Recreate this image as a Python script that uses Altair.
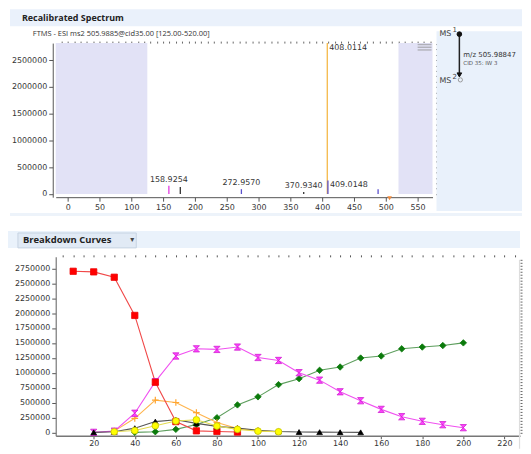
import altair as alt
import pandas as pd

# ------------------------------------------------------------------ data
# Recalibrated spectrum (m/z, intensity)
peak_mz = [158.9254, 176.9, 272.9570, 370.9340, 408.0114, 409.0148, 487.9]
peak_intensity = [155000, 130000, 90000, 35000, 2820000, 250000, 90000]
peak_kind = ["magenta", "dark", "blue", "dark", "base", "blue", "blue"]

label_mz = [158.9254, 272.9570, 370.9340]
label_intensity = [155000, 90000, 35000]
label_text = ["158.9254", "272.9570", "370.9340"]

base_mz = [408.0114]
base_intensity = [2820000]
base_text = ["408.0114"]

iso_mz = [409.0148]
iso_intensity = [250000]
iso_text = ["409.0148"]

precursor_mz = [505.9885]
precursor_level = [-60000]

excluded_from = [-19, 520]
excluded_to = [125, 573.5]
excluded_bottom = [0, 0]
excluded_top = [2820000, 2820000]

# Breakdown curves (collision energy, intensity)
red_x = [10, 20, 30, 40, 50, 60, 70, 80, 90]
red_y = [2700000, 2690000, 2600000, 1960000, 840000, 180000, 25000, 15000, 5000]

magenta_x = [20, 30, 40, 50, 60, 70, 80, 90, 100, 110, 120, 130, 140, 150, 160, 170, 180, 190, 200]
magenta_y = [0, 20000, 320000, 850000, 1280000, 1400000, 1390000, 1430000, 1255000, 1205000,
             1000000, 875000, 680000, 530000, 385000, 262000, 185000, 128000, 78000]

green_x = [40, 50, 60, 70, 80, 90, 100, 110, 120, 130, 140, 150, 160, 170, 180, 190, 200]
green_y = [0, 10000, 50000, 130000, 245000, 460000, 595000, 800000, 900000, 1040000, 1095000,
           1245000, 1280000, 1400000, 1430000, 1455000, 1500000]

orange_x = [30, 40, 50, 60, 70, 80, 90, 100, 110]
orange_y = [20000, 235000, 540000, 500000, 330000, 165000, 65000, 25000, 10000]

black_x = [20, 30, 40, 50, 60, 70, 80, 90, 100, 110, 120, 130, 140, 150]
black_y = [0, 10000, 70000, 180000, 210000, 150000, 100000, 70000, 35000, 15000, 5000, 3000, 2000, 0]

yellow_x = [30, 40, 50, 60, 70, 80, 90, 100, 110]
yellow_y = [10000, 30000, 110000, 190000, 210000, 105000, 50000, 20000, 10000]

# texts
title_top = ["Recalibrated Spectrum"]
subtitle_top = ["FTMS - ESI ms2 505.9885@cid35.00 [125.00-520.00]"]
title_bottom = ["Breakdown Curves"]
ms_text = ["MS"]
ms1_sup = ["1"]
ms2_sup = ["2"]
mz_text = ["m/z 505.98847"]
cid_text = ["CID 35: IW 3"]
dropdown = ["▾"]

# ------------------------------------------------------------------ helpers
FONT = "DejaVu Sans"
UI = "Open Sans"
ONE = pd.DataFrame({"k": [0]})


def box(x1, x2, y1, y2, fill, stroke=None):
    kw = dict(fill=fill)
    if stroke:
        kw.update(stroke=stroke, strokeWidth=1)
    return alt.Chart(ONE).mark_rect(**kw).encode(
        x=alt.value(x1), x2=alt.value(x2), y=alt.value(y1), y2=alt.value(y2))


def txt(values, x, y, size, font=FONT, color="#333333", weight="normal", align="left"):
    return alt.Chart(pd.DataFrame({"t": values})).mark_text(
        align=align, baseline="middle", fontSize=size, font=font, color=color,
        fontWeight=weight).encode(x=alt.value(x), y=alt.value(y), text="t:N")


def hrule(x1, x2, y, color, w=1.0):
    return alt.Chart(ONE).mark_rule(color=color, strokeWidth=w).encode(
        x=alt.value(x1), x2=alt.value(x2), y=alt.value(y))


def vrule(x, y1, y2, color, w=1.0):
    return alt.Chart(ONE).mark_rule(color=color, strokeWidth=w).encode(
        x=alt.value(x), y=alt.value(y1), y2=alt.value(y2))


def dot(x, y, shape, size, fill, stroke, filled=True):
    kw = dict(shape=shape, size=size, stroke=stroke, strokeWidth=1, opacity=1, filled=filled)
    if filled:
        kw["fill"] = fill
    return alt.Chart(ONE).mark_point(**kw).encode(x=alt.value(x), y=alt.value(y))


# ------------------------------------------------------------------ top chart
TW, TH = 379, 155
RIGHT_T = 469  # right edge (relative to top plot origin)
tx = alt.Scale(domain=[-19, 573.5], nice=False, zero=False)
ty = alt.Scale(domain=[-60000, 2820000], nice=False, zero=False)

ax_common = dict(grid=False, title=None, labelFont=FONT, labelFontSize=8, labelColor="#333333",
                 tickColor="#555555", domainColor="#555555")
top_x_major = alt.Axis(values=list(range(0, 551, 50)), tickSize=4, labelPadding=2, **ax_common)
top_x_minor = alt.Axis(values=list(range(-10, 571, 10)), labels=False, domain=False, tickSize=2,
                       grid=False, title=None, tickColor="#666666")
top_y_major = alt.Axis(values=list(range(0, 2500001, 500000)), format="d", tickSize=4, labelPadding=2,
                       offset=3, **ax_common)
top_y_minor = alt.Axis(values=list(range(0, 2800001, 100000)), labels=False, domain=False, tickSize=2,
                       offset=3, grid=False, title=None, tickColor="#666666")

peaks = pd.DataFrame({"mz": peak_mz, "inten": peak_intensity, "kind": peak_kind})
excl = pd.DataFrame({"a": excluded_from, "b": excluded_to, "lo": excluded_bottom, "hi": excluded_top})
labs = pd.DataFrame({"mz": label_mz, "inten": label_intensity, "t": label_text})
base = pd.DataFrame({"mz": base_mz, "inten": base_intensity, "t": base_text})
iso = pd.DataFrame({"mz": iso_mz, "inten": iso_intensity, "t": iso_text})
prec = pd.DataFrame({"mz": precursor_mz, "lev": precursor_level})

shade = alt.Chart(excl).mark_rect(fill="#e2e2f6").encode(
    x=alt.X("a:Q", scale=tx, axis=None), x2="b:Q",
    y=alt.Y("lo:Q", scale=ty, axis=None), y2="hi:Q")

sticks = alt.Chart(peaks).mark_rule(strokeWidth=1.3).encode(
    x=alt.X("mz:Q", scale=tx, axis=top_x_major),
    y=alt.Y("inten:Q", scale=ty, axis=top_y_major),
    y2=alt.datum(0),
    color=alt.Color("kind:N", legend=None, scale=alt.Scale(
        domain=["magenta", "dark", "blue", "base"],
        range=["#e03ce0", "#333333", "#5a50cc", "#f5b847"])))

minor_axes = alt.Chart(peaks).mark_point(opacity=0).encode(
    x=alt.X("mz:Q", scale=tx, axis=top_x_minor),
    y=alt.Y("inten:Q", scale=ty, axis=top_y_minor))

peak_labels = alt.Chart(labs).mark_text(fontSize=8, font=FONT, color="#333333", baseline="bottom",
                                        dy=-2).encode(
    x=alt.X("mz:Q", scale=tx, axis=None), y=alt.Y("inten:Q", scale=ty, axis=None), text="t:N")

base_label = alt.Chart(base).mark_text(fontSize=8, font=FONT, color="#333333", align="left",
                                       baseline="top", dx=2, dy=1).encode(
    x=alt.X("mz:Q", scale=tx, axis=None), y=alt.Y("inten:Q", scale=ty, axis=None), text="t:N")

iso_label = alt.Chart(iso).mark_text(fontSize=8, font=FONT, color="#333333", align="left",
                                     baseline="middle", dx=2, dy=4).encode(
    x=alt.X("mz:Q", scale=tx, axis=None), y=alt.Y("inten:Q", scale=ty, axis=None), text="t:N")

prec_mark = alt.Chart(prec).mark_point(shape="triangle-down", filled=True, fill="#f08a3c",
                                       size=22, opacity=1, yOffset=1).encode(
    x=alt.X("mz:Q", scale=tx, axis=None), y=alt.Y("lev:Q", scale=ty, axis=None))

top = alt.layer(
    box(-46, RIGHT_T, -34, -17, "#eaf1fb"),
    txt(title_top, -34, -25.5, 9, font=UI, color="#222222", weight="bold"),
    txt(subtitle_top, -23, -9, 7.5, font=UI, color="#333333"),
    box(383, RIGHT_T, -12, 169, "#e9f1fb"),
    box(-46, RIGHT_T, 171, 174, "#edf3fa"),
    shade,
    sticks,
    minor_axes,
    peak_labels,
    base_label,
    iso_label,
    prec_mark,
    hrule(364, 378, 1.5, "#b0b0b8", 1.4),
    hrule(364, 378, 4.2, "#b0b0b8", 1.4),
    hrule(364, 378, 6.9, "#b0b0b8", 1.4),
    # MS tree
    txt(ms_text, 386, -9, 8, color="#444444"),
    txt(ms1_sup, 399, -13, 7, color="#444444"),
    vrule(406, -9, 33, "#222222", 1.5),
    dot(406, -9, "circle", 22, "#111111", "#111111"),
    dot(406, 32, "triangle-down", 22, "#111111", "#111111"),
    txt(ms_text, 386, 38, 8, color="#444444"),
    txt(ms2_sup, 399, 34, 7, color="#444444"),
    dot(407, 37, "circle", 18, "#ffffff", "#999999", filled=False),
    txt(mz_text, 410, 12, 7, color="#333333"),
    txt(cid_text, 410, 20, 5.5, color="#555555"),
).resolve_axis(x="independent", y="independent").properties(width=TW, height=TH)

# ------------------------------------------------------------------ bottom chart
BW, BH = 467, 180
bx = alt.Scale(domain=[1.5, 227.6], nice=False, zero=False)
by = alt.Scale(domain=[-58000, 2942000], nice=False, zero=False)

bot_x_major = alt.Axis(values=list(range(20, 221, 20)), tickSize=3, labelPadding=1,
                       domainWidth=1.5, grid=False, title=None, labelFont=FONT, labelFontSize=8,
                       labelColor="#333333", tickColor="#555555", domainColor="#777777")
bot_x_minor = alt.Axis(values=list(range(5, 226, 5)), labels=False, domain=False, tickSize=2,
                       grid=False, title=None, tickColor="#555555")
bot_y_major = alt.Axis(values=list(range(0, 2750001, 250000)), format="d", tickSize=4, labelPadding=2,
                       domainWidth=1.2, grid=False, title=None, labelFont=FONT, labelFontSize=8,
                       labelColor="#333333", tickColor="#555555", domainColor="#777777")
bot_y_minor = alt.Axis(values=list(range(0, 2900001, 50000)), labels=False, domain=False, tickSize=2,
                       grid=False, title=None, tickColor="#666666")

HOURGLASS = "M-1,-1L1,-1L-1,1L1,1Z"
PLUS = "M-1,0L1,0M0,-1L0,1"

series = [
    (green_x, green_y, "#5d9e5d", dict(shape="diamond", filled=True, fill="#0b7a0b", stroke="#0b7a0b", size=42)),
    (orange_x, orange_y, "#ffb44c", dict(shape=PLUS, filled=False, stroke="#ffa530", size=45, strokeWidth=1.2)),
    (magenta_x, magenta_y, "#f050f0", dict(shape=HOURGLASS, filled=True, fill="#ff40ff", stroke="#d020d0", size=40)),
    (red_x, red_y, "#f04848", dict(shape="square", filled=True, fill="#ff0000", stroke="#ee0000", size=40)),
    (black_x, black_y, "#555555", dict(shape="triangle-up", filled=True, fill="#000000", stroke="#000000", size=32)),
    (yellow_x, yellow_y, "#e4dc50", dict(shape="circle", filled=True, fill="#ffff00", stroke="#c2c200", size=45)),
]

bottom_layers = [
    box(-48, BW, -26, -9, "#eaf2fb"),
    box(-38, 81, -24, -9, "#e1eaf5", "#c6d3e2"),
    txt(title_bottom, -33, -16.5, 9.5, font=UI, color="#222222", weight="bold"),
    txt(dropdown, 75, -16.5, 8, color="#444444"),
    vrule(BW - 0.5, 3, 193, "#dddddd", 1.2),
]

for xs, ys, lcol, pstyle in series:
    d = pd.DataFrame({"e": xs, "v": ys})
    bottom_layers.append(alt.Chart(d).mark_line(color=lcol, strokeWidth=1.1).encode(
        x=alt.X("e:Q", scale=bx, axis=None), y=alt.Y("v:Q", scale=by, axis=None)))
for xs, ys, lcol, pstyle in series:
    d = pd.DataFrame({"e": xs, "v": ys})
    style = dict(opacity=1)
    style.update(pstyle)
    if "strokeWidth" not in style:
        style["strokeWidth"] = 0.8
    bottom_layers.append(alt.Chart(d).mark_point(**style).encode(
        x=alt.X("e:Q", scale=bx, axis=None), y=alt.Y("v:Q", scale=by, axis=None)))

axis_data = pd.DataFrame({"e": magenta_x, "v": magenta_y})
bottom_layers.append(alt.Chart(axis_data).mark_point(opacity=0).encode(
    x=alt.X("e:Q", scale=bx, axis=bot_x_major), y=alt.Y("v:Q", scale=by, axis=bot_y_major)))
bottom_layers.append(alt.Chart(axis_data).mark_point(opacity=0).encode(
    x=alt.X("e:Q", scale=bx, axis=bot_x_minor), y=alt.Y("v:Q", scale=by, axis=bot_y_minor)))

bottom = alt.layer(*bottom_layers).resolve_axis(x="independent", y="independent").properties(
    width=BW, height=BH)

chart = alt.vconcat(top, bottom, spacing=15).properties(padding=0).configure_view(stroke=None)

chart.save("out.html", embed_options={"renderer": "svg", "actions": False})
